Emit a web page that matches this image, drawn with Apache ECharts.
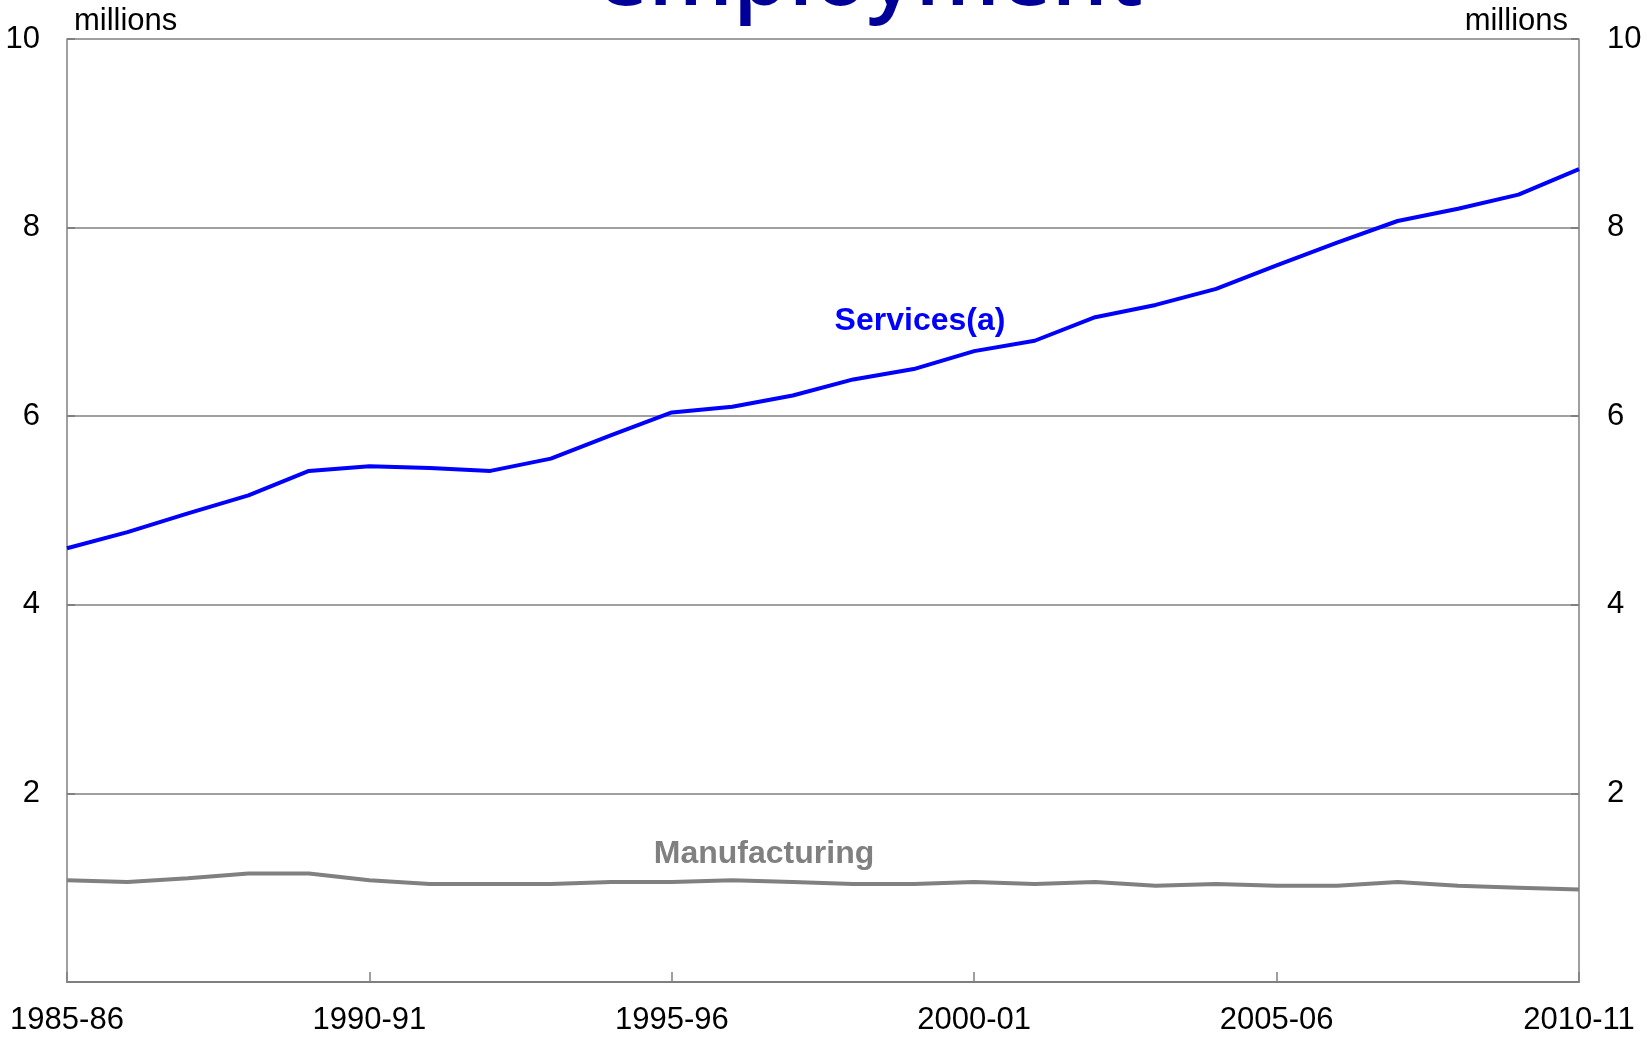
<!DOCTYPE html>
<html>
<head>
<meta charset="utf-8">
<script src="https://cdn.jsdelivr.net/npm/echarts@6/dist/echarts.min.js"></script>
<style>
  html, body { margin: 0; padding: 0; background: #fff; }
  #chart { width: 1647px; height: 1038px; }
</style>
</head>
<body>
<div id="chart"></div>
<script>
var years = ['1985-86', '1986-87', '1987-88', '1988-89', '1989-90', '1990-91', '1991-92', '1992-93',
  '1993-94', '1994-95', '1995-96', '1996-97', '1997-98', '1998-99', '1999-00', '2000-01', '2001-02',
  '2002-03', '2003-04', '2004-05', '2005-06', '2006-07', '2007-08', '2008-09', '2009-10', '2010-11'];
// millions of persons
var services = [4.60, 4.77, 4.97, 5.16, 5.42, 5.47, 5.45, 5.42, 5.55, 5.80, 6.04, 6.10, 6.22,
  6.39, 6.50, 6.69, 6.80, 7.05, 7.18, 7.35, 7.60, 7.84, 8.07, 8.20, 8.35, 8.62];
var manufacturing = [1.08, 1.06, 1.10, 1.15, 1.15, 1.08, 1.04, 1.04, 1.04, 1.06, 1.06, 1.08, 1.06,
  1.04, 1.04, 1.06, 1.04, 1.06, 1.02, 1.04, 1.02, 1.02, 1.06, 1.02, 1.00, 0.98];
var yTicks = [0, 2, 4, 6, 8, 10];

var font = 'Liberation Sans, Arial, sans-serif';
var grey = '#808080';

var chart = echarts.init(document.getElementById('chart'));

function yAxisOpt(pos, margin) {
  return {
    type: 'value',
    position: pos,
    min: yTicks[0],
    max: yTicks[yTicks.length - 1],
    interval: yTicks[1] - yTicks[0],
    axisLine: { show: true, lineStyle: { color: grey, width: 1.5 } },
    axisTick: { show: true, inside: true, length: 8, lineStyle: { color: grey, width: 2 } },
    axisLabel: {
      margin: margin, fontSize: 31, color: '#000', fontFamily: font,
      formatter: function (v) { return v === 0 ? '' : v; }
    },
    splitLine: { show: pos === 'left', lineStyle: { color: grey, width: 1.5 } }
  };
}

var option = {
  animation: false,
  backgroundColor: '#fff',
  grid: { left: 67, right: 68, top: 39, bottom: 56 },
  xAxis: {
    type: 'category',
    data: years,
    boundaryGap: false,
    axisLine: { lineStyle: { color: grey, width: 2 } },
    axisTick: { inside: true, length: 10, interval: 4, lineStyle: { color: grey, width: 1.5 } },
    axisLabel: { interval: 4, margin: 23, fontSize: 31, color: '#000', fontFamily: font },
    splitLine: { show: false }
  },
  yAxis: [yAxisOpt('left', 27), yAxisOpt('right', 28)],
  series: [
    {
      name: 'Services(a)',
      type: 'line',
      data: services,
      showSymbol: false,
      lineStyle: { color: '#0000ff', width: 4 },
      z: 3
    },
    {
      name: 'Manufacturing',
      type: 'line',
      data: manufacturing,
      showSymbol: false,
      lineStyle: { color: grey, width: 4 }
    }
  ],
  graphic: [
    {
      type: 'text', x: 870, y: 24,
      style: { text: 'employment', fill: '#000099', font: '600 89px "Open Sans", sans-serif',
        align: 'center', verticalAlign: 'bottom' }
    },
    {
      type: 'text', x: 74, y: 21,
      style: { text: 'millions', fill: '#000', font: '31px ' + font, align: 'left', verticalAlign: 'middle' }
    },
    {
      type: 'text', x: 1568, y: 21,
      style: { text: 'millions', fill: '#000', font: '31px ' + font, align: 'right', verticalAlign: 'middle' }
    },
    {
      type: 'text', x: 920, y: 321,
      style: { text: 'Services(a)', fill: '#0000ff', font: 'bold 32px ' + font, align: 'center', verticalAlign: 'middle' }
    },
    {
      type: 'text', x: 764, y: 854,
      style: { text: 'Manufacturing', fill: grey, font: 'bold 32px ' + font, align: 'center', verticalAlign: 'middle' }
    }
  ]
};

chart.setOption(option);
</script>
</body>
</html>
